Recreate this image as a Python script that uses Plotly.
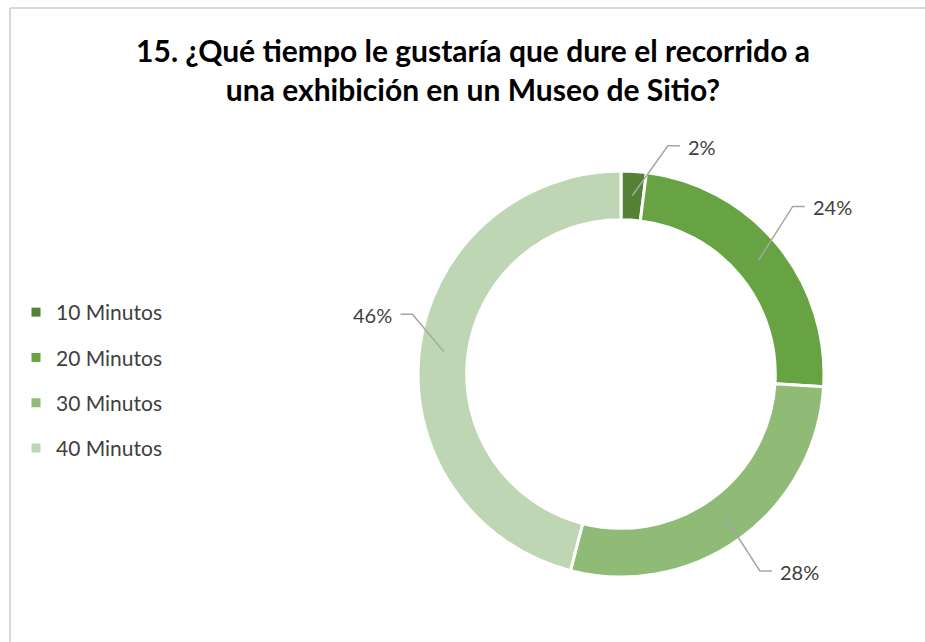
"""Donut chart: preferred visit length for a site-museum exhibition."""

import math

import plotly.graph_objects as go

categories = ["10 Minutos", "20 Minutos", "30 Minutos", "40 Minutos"]
percentages = [2, 24, 28, 46]
colors = ["#548235", "#68a343", "#8fbb76", "#bfd6b4"]

title_text = "15. ¿Qué tiempo le gustaría que dure el recorrido a<br>una exhibición en un Museo de Sitio?"

# ---------------------------------------------------------------------------
# Layout geometry (pixels in a 925x642 canvas)
# ---------------------------------------------------------------------------
W, H = 925, 642
CX, CY, R_OUT = 621, 374, 203
HOLE = 0.76
R_MID = R_OUT * (1 + HOLE) / 2

# where each label's leader line bends (polar, degrees clockwise from 12 o'clock)
_ELBOW = [(11.6, 233), (45.7, 240), (144.8, 241), (286.0, 217)]
_TEXT_FONT = "Lato, 'Open Sans', sans-serif"


def px(x, y):
    return x / W, 1 - y / H


def polar(angle_deg, r):
    a = math.radians(angle_deg)
    return CX + r * math.sin(a), CY - r * math.cos(a)


fig = go.Figure()

fig.add_trace(
    go.Pie(
        labels=categories,
        values=percentages,
        hole=HOLE,
        sort=False,
        direction="clockwise",
        rotation=0,
        marker=dict(colors=colors, line=dict(color="white", width=3)),
        textinfo="none",
        hoverinfo="label+percent",
        showlegend=False,
        domain=dict(
            x=[(CX - R_OUT) / W, (CX + R_OUT) / W],
            y=[1 - (CY + R_OUT) / H, 1 - (CY - R_OUT) / H],
        ),
    )
)

# legend entries drawn as empty scatter traces so the row spacing can be set
for name, color in zip(categories, colors):
    fig.add_trace(
        go.Scatter(
            x=[None],
            y=[None],
            mode="markers",
            name=name,
            legendgroup=name,
            marker=dict(symbol="square", size=9, color=color),
        )
    )

# data labels with elbow leader lines
total = sum(percentages)
cum = 0
for value, (elbow_ang, elbow_r) in zip(percentages, _ELBOW):
    mid = (cum + value / 2) / total * 360
    cum += value
    x0, y0 = polar(mid, R_MID)
    x1, y1 = polar(elbow_ang, elbow_r)
    side = 1 if x1 >= CX else -1
    x2 = x1 + 12 * side
    pts = [px(x0, y0), px(x1, y1), px(x2, y1)]
    path = "M {} {} L {} {} L {} {}".format(*[c for p in pts for c in p])
    fig.add_shape(
        type="path",
        path=path,
        xref="paper",
        yref="paper",
        line=dict(color="#a6a6a6", width=1.5),
    )
    tx, ty = px(x2 + 6 * side, y1 + 1)
    fig.add_annotation(
        x=tx,
        y=ty,
        xref="paper",
        yref="paper",
        text=f"{value}%",
        showarrow=False,
        xanchor="left" if side > 0 else "right",
        yanchor="middle",
        font=dict(family=_TEXT_FONT, size=20, color="#404040"),
    )

# chart-area border (top and left edges visible)
bx0, by0 = px(10, 8)
fig.add_shape(type="line", xref="paper", yref="paper", x0=bx0, y0=by0, x1=1, y1=by0,
              line=dict(color="#d9d9d9", width=2))
fig.add_shape(type="line", xref="paper", yref="paper", x0=bx0, y0=by0, x1=bx0, y1=0,
              line=dict(color="#d9d9d9", width=2))

fig.update_layout(
    width=W,
    height=H,
    margin=dict(l=0, r=0, t=0, b=0),
    paper_bgcolor="white",
    plot_bgcolor="white",
    title=dict(
        text=f"<b>{title_text}</b>",
        x=473 / W,
        xanchor="center",
        y=1 - 62 / H,
        yanchor="middle",
        font=dict(family=_TEXT_FONT, size=30, color="#000000"),
    ),
    xaxis=dict(visible=False),
    yaxis=dict(visible=False),
    legend=dict(
        x=px(16, 0)[0],
        xanchor="left",
        y=1 - 292 / H,
        yanchor="top",
        font=dict(family=_TEXT_FONT, size=21, color="#404040"),
        tracegroupgap=15,
        bgcolor="rgba(0,0,0,0)",
    ),
)

fig.write_html(
    "out.html",
    config={"displayModeBar": False},
    post_script="document.body.style.margin='0';",
)
